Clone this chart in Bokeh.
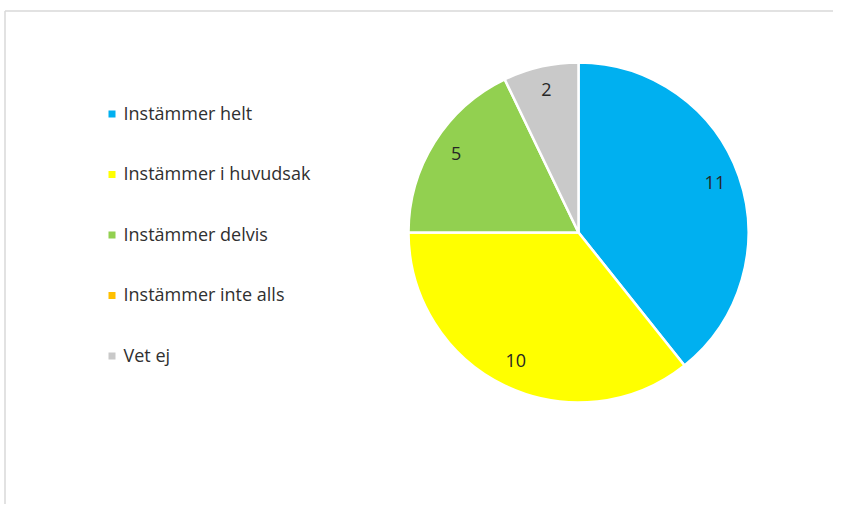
import math
from bokeh.plotting import figure
from bokeh.models import ColumnDataSource, Range1d
from bokeh.core.properties import value
from bokeh.embed import file_html
from bokeh.resources import INLINE

categories = ["Instämmer helt", "Instämmer i huvudsak", "Instämmer delvis", "Instämmer inte alls", "Vet ej"]
counts = [11, 10, 5, 0, 2]
colors = ["#00B0F0", "#FFFF00", "#92D050", "#FFC000", "#C9C9C9"]

W, H = 833, 504
p = figure(width=W, height=H, output_backend="svg", toolbar_location=None,
           x_range=Range1d(0, W), y_range=Range1d(0, H), min_border=0)
p.axis.visible = False
p.grid.visible = False
p.outline_line_color = None
p.background_fill_color = "white"
p.border_fill_color = "white"

def Y(sy):
    return H - sy

# chart border (light gray), top and left
p.segment(x0=[4.5, 4.5], y0=[Y(10.5), Y(10.5)], x1=[W, 4.5], y1=[Y(10.5), 0],
          line_color="#D9D9D9", line_width=1.5)

cx, cy, r = 578, Y(232), 170
total = sum(counts)
starts, ends, wcol, lx, ly, labels = [], [], [], [], [], []
cum = 0
for c, col in zip(counts, colors):
    if c == 0:
        continue
    a0 = math.pi / 2 - 2 * math.pi * cum / total
    a1 = math.pi / 2 - 2 * math.pi * (cum + c) / total
    starts.append(a0)
    ends.append(a1)
    wcol.append(col)
    mid = (a0 + a1) / 2
    lx.append(cx + 0.85 * r * math.cos(mid))
    ly.append(cy + 0.85 * r * math.sin(mid) + 2)
    labels.append(str(c))
    cum += c

src = ColumnDataSource(dict(start=starts, end=ends, color=wcol))
p.wedge(x=cx, y=cy, radius=r, start_angle="start", end_angle="end", direction="clock",
        fill_color="color", line_color="white", line_width=2.5, source=src)

lab = ColumnDataSource(dict(x=lx, y=ly, t=labels))
p.text(x="x", y="y", text="t", source=lab, text_align="center", text_baseline="middle",
       text_font=value("Open Sans"), text_font_size="18px", text_color="#262626")

# legend
leg_y = [Y(113.5 + 60.5 * i) for i in range(len(categories))]
p.scatter(x=[111.5] * len(categories), y=leg_y, marker="square", size=7,
          fill_color=colors, line_color=None)
p.text(x=[123] * len(categories), y=[v + 1.5 for v in leg_y], text=categories,
       text_align="left", text_baseline="middle", text_font=value("Open Sans"),
       text_font_size="18px", text_color="#303030")

open("out.html", "w").write(file_html(p, INLINE))
